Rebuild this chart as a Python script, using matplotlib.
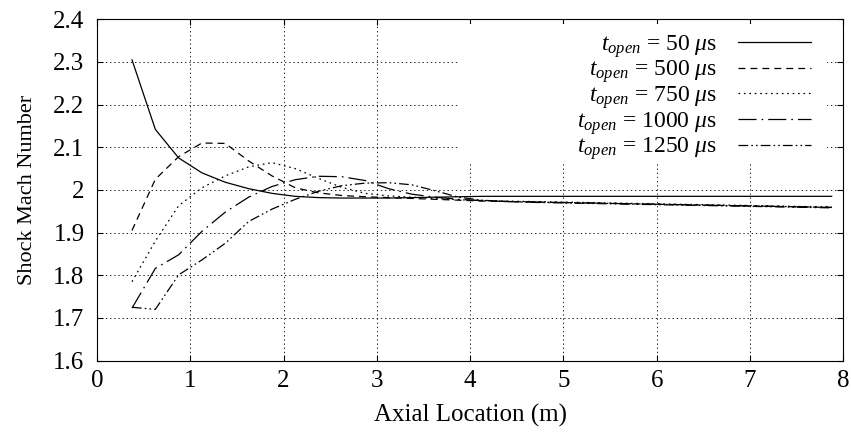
import numpy as np
import matplotlib
matplotlib.use('Agg')
from matplotlib import pyplot as plt
from matplotlib.patches import Rectangle

plt.rcParams['font.family'] = ['Liberation Serif', 'DejaVu Serif']
plt.rcParams['mathtext.fontset'] = 'custom'
plt.rcParams['mathtext.rm'] = 'Liberation Serif'
plt.rcParams['mathtext.it'] = 'Liberation Serif:italic'
plt.rcParams['lines.scale_dashes'] = False

# axial positions of the samples (m)
x = [0.375, 0.625, 0.875, 1.125, 1.375, 1.625, 1.875, 2.125, 2.375, 2.625,
     2.875, 3.125, 3.375, 3.625, 3.875, 4.125, 4.375, 4.625, 4.875, 5.125,
     5.375, 5.625, 5.875, 6.125, 6.375, 6.625, 6.875, 7.125, 7.375, 7.625, 7.875]

t50 = [2.305, 2.142, 2.075, 2.040, 2.018, 2.003, 1.992, 1.985, 1.982, 1.981,
       1.981, 1.981, 1.982, 1.983, 1.984, 1.985, 1.985, 1.985, 1.985, 1.985,
       1.985, 1.985, 1.985, 1.985, 1.985, 1.985, 1.985, 1.985, 1.985, 1.985, 1.985]
t500 = [1.905, 2.025, 2.078, 2.110, 2.109, 2.068, 2.033, 2.005, 1.993, 1.987,
        1.984, 1.982, 1.980, 1.978, 1.976, 1.974, 1.973, 1.972, 1.971, 1.970,
        1.969, 1.968, 1.967, 1.966, 1.965, 1.964, 1.963, 1.962, 1.961, 1.960, 1.959]
t750 = [1.785, 1.880, 1.963, 2.005, 2.033, 2.054, 2.064, 2.050, 2.027, 2.006,
        1.992, 1.986, 1.983, 1.980, 1.977, 1.975, 1.974, 1.973, 1.972, 1.971,
        1.970, 1.969, 1.968, 1.967, 1.966, 1.965, 1.964, 1.963, 1.962, 1.961, 1.961]
t1000 = [1.723, 1.816, 1.848, 1.903, 1.948, 1.983, 2.008, 2.024, 2.032, 2.031,
         2.022, 2.003, 1.990, 1.983, 1.978, 1.975, 1.973, 1.972, 1.971, 1.970,
         1.969, 1.968, 1.967, 1.966, 1.965, 1.964, 1.963, 1.962, 1.961, 1.960, 1.959]
t1250 = [1.725, 1.720, 1.801, 1.836, 1.875, 1.926, 1.955, 1.978, 1.997, 2.010,
         2.016, 2.017, 2.012, 1.998, 1.983, 1.976, 1.973, 1.971, 1.970, 1.969,
         1.968, 1.967, 1.966, 1.965, 1.964, 1.963, 1.962, 1.961, 1.960, 1.959, 1.958]

labels = ['50', '500', '750', '1000', '1250']
series = [t50, t500, t750, t1000, t1250]
styles = ['-', (0, (5, 3.6)), (0, (1.2, 2.7)), (0, (13, 3.6, 1.2, 3.6)),
          (0, (7, 2.2, 1.2, 2.2, 1.2, 2.2))]

fig = plt.figure(figsize=(8.51, 4.43), dpi=100)
ax = fig.add_axes([0.114, 0.186, 0.877, 0.7705])

for lab, y, ls in zip(labels, series, styles):
    ax.plot(x, y, color='black', linestyle=ls, linewidth=0.9,
            label=r'$t_{open}$ = %s $\mu$s' % lab)

ax.set_xlim(0, 8)
ax.set_ylim(1.6, 2.4)
ax.set_xticks(range(0, 9))
ax.set_yticks(np.arange(1.6, 2.41, 0.1))
ax.set_yticklabels(['%g' % round(v, 1) for v in np.arange(1.6, 2.41, 0.1)])
ax.grid(True, color='black', linestyle=(0, (1, 2)), linewidth=0.6)
ax.tick_params(direction='in', length=4, width=0.8, labelsize=18,
               top=True, right=True)
ax.tick_params(axis='x', pad=7)
ax.tick_params(axis='y', pad=9)
for s in ax.spines.values():
    s.set_linewidth(0.8)

# key area blanks the grid behind it
ax.add_patch(Rectangle((0.486, 0.579), 0.492, 0.407, transform=ax.transAxes,
                       facecolor='white', edgecolor='none', zorder=1.8))

ax.set_xlabel('Axial Location (m)', fontsize=18, labelpad=8)
ax.set_ylabel('Shock Mach Number', fontsize=16, labelpad=12)

leg = ax.legend(loc='upper right', bbox_to_anchor=(0.956, 0.96),
                frameon=False, markerfirst=False,
                fontsize=17, handlelength=3.05, handletextpad=0.9,
                labelspacing=-0.05, borderaxespad=0, borderpad=0)
for t in leg.get_texts():
    t.set_ha('right')

plt.savefig('out.png', dpi=100)
